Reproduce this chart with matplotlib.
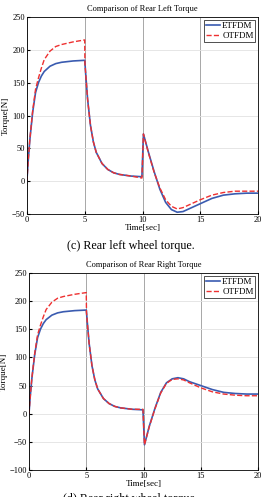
import matplotlib
matplotlib.use('Agg')
import matplotlib.pyplot as plt

plt.rcParams['font.family'] = ['Liberation Serif', 'DejaVu Serif']

# time stamps (sec) shared by all series
t = [0, 0.1, 0.25, 0.5, 0.75, 1.0, 1.25, 1.5, 2.0, 2.5, 3.0, 3.5, 4.0, 4.5, 5.0,
     5.02, 5.1, 5.25, 5.5, 5.75, 6.0, 6.5, 7.0, 7.5, 8.0, 9.0, 9.95,
     10.08, 10.5, 11.0, 11.5, 12.0, 12.5, 13.0, 13.5, 14.0, 15.0, 16.0, 17.0, 18.0, 19.0, 20.0]

left_et = [0, 28, 62, 105, 135, 150, 160, 167, 175, 179, 181, 182, 183, 183.5, 184,
           180, 160, 125, 85, 60, 44, 27, 18, 13, 10.5, 8, 7,
           72, 45, 15, -12, -32, -43, -47, -46, -42, -34, -26, -21, -19, -18, -18]
left_ot = [0, 28, 63, 107, 140, 157, 172, 185, 198, 205, 208, 210, 212, 213.5, 215,
           180, 160, 125, 85, 60, 44, 27, 18, 13, 10.5, 8, 5,
           72, 44, 14, -10, -28, -38, -42, -40, -36, -28, -21, -17, -15, -15, -15]
right_et = [0, 28, 62, 105, 135, 150, 160, 167, 175, 179, 181, 182, 183, 183.5, 184,
            180, 160, 125, 85, 60, 44, 27, 18, 13, 10.5, 8, 7,
            -55, -22, 10, 38, 55, 62, 64, 62, 57, 50, 43, 38, 36, 35, 35]
right_ot = [0, 28, 63, 107, 140, 157, 172, 185, 198, 205, 208, 210, 212, 213.5, 215,
            180, 160, 125, 85, 60, 44, 27, 18, 13, 10.5, 8, 8,
            -55, -23, 9, 37, 54, 61, 62, 60, 55, 46, 39, 35, 33, 32, 32]

xticks = [0, 5, 10, 15, 20]
left_yticks = [-50, 0, 50, 100, 150, 200, 250]
right_yticks = [-100, -50, 0, 50, 100, 150, 200, 250]


def torque_panel(ax, et, ot, title, yticks):
  ax.plot(t, et, color='#3a5bb0', lw=1.2, label='ETFDM')
  ax.plot(t, ot, color='#ee3030', lw=1.0, ls='--', label='OTFDM')
  ax.set_xlim(0, 20)
  ax.set_ylim(yticks[0], yticks[-1])
  ax.set_xticks(xticks)
  ax.set_yticks(yticks)
  ax.tick_params(labelsize=6, direction='in', length=2, pad=1.5)
  ax.grid(axis='x', color='#999999', lw=0.6)
  ax.grid(axis='y', color='#e2e2e2', lw=0.6)
  ax.set_title(title, fontsize=6, pad=4)
  ax.set_xlabel('Time[sec]', fontsize=6.5, labelpad=0)
  ax.set_ylabel('Torque[N]', fontsize=6.5, labelpad=1)
  leg = ax.legend(loc='upper right', fontsize=6.5, handlelength=1.6,
                  borderpad=0.2, labelspacing=0.2, handletextpad=0.2,
                  fancybox=False, borderaxespad=0.3)
  leg.get_frame().set_edgecolor('black')
  leg.get_frame().set_linewidth(0.6)
  for s in ax.spines.values():
    s.set_linewidth(0.6)


fig = plt.figure(figsize=(2.61, 4.97), dpi=100)
ax1 = fig.add_axes([0.103, 0.569, 0.886, 0.397])
ax2 = fig.add_axes([0.111, 0.054, 0.878, 0.397])
torque_panel(ax1, left_et, left_ot, 'Comparison of Rear Left Torque', left_yticks)
torque_panel(ax2, right_et, right_ot, 'Comparison of Rear Right Torque', right_yticks)

fig.text(0.5, 1 - 246 / 497, '(c) Rear left wheel torque.', ha='center', va='center', fontsize=8.7)
fig.text(0.5, -2 / 497, '(d) Rear right wheel torque.', ha='center', va='center', fontsize=8.7)

fig.savefig('out.png', dpi=100)
